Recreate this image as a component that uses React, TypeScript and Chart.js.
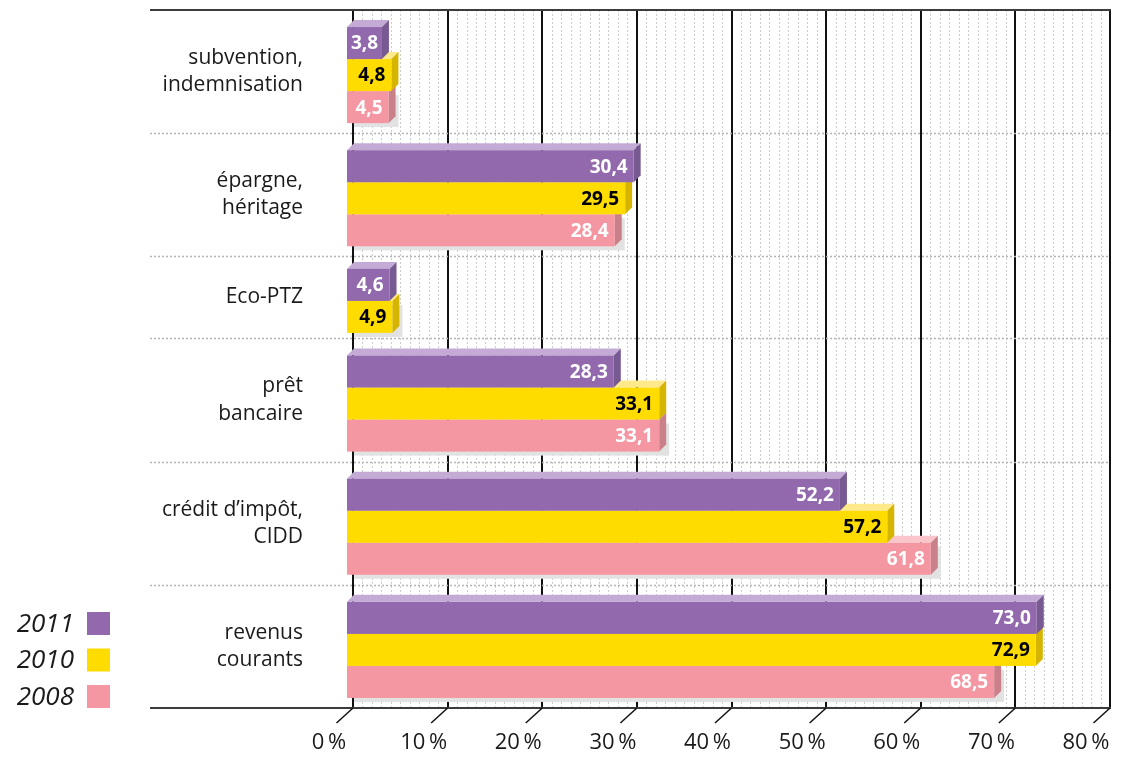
import React, { useEffect, useRef } from "react";
import { Chart, registerables } from "chart.js";

Chart.register(...registerables);

// ---------- data ----------
const categories: string[][] = [
  ["subvention,", "indemnisation"],
  ["épargne,", "héritage"],
  ["Eco-PTZ"],
  ["prêt", "bancaire"],
  ["crédit d’impôt,", "CIDD"],
  ["revenus", "courants"],
];
const seriesNames = ["2011", "2010", "2008"];
const values2011: (number | null)[] = [3.8, 30.4, 4.6, 28.3, 52.2, 73.0];
const values2010: (number | null)[] = [4.8, 29.5, 4.9, 33.1, 57.2, 72.9];
const values2008: (number | null)[] = [4.5, 28.4, null, 33.1, 61.8, 68.5];
const xTicks = [0, 10, 20, 30, 40, 50, 60, 70, 80];

// ---------- style ----------
const frontColors = ["#9169ac", "#ffdc00", "#f497a3"];
const topColors = ["#c3abd6", "#ffe98a", "#f9c6cc"];
const sideColors = ["#785a93", "#d6b500", "#c98089"];
const labelColors = ["#ffffff", "#000000", "#ffffff"];
const FONT = "'Open Sans', 'Noto Sans', sans-serif";
const DX = 7; // depth x
const DY = 7; // depth y
const BAR = 0.78; // bar thickness in slot units

// ---------- derived layout (slots) ----------
const seriesValues = [values2011, values2010, values2008];
const counts = categories.map((_, c) => seriesValues.filter((v) => v[c] != null).length);
const starts = counts.map((_, c) => counts.slice(0, c).reduce((a, b) => a + b, 0));
const totalSlots = counts.reduce((a, b) => a + b, 0);
const groupCenters = counts.map((n, c) => starts[c] + n / 2);

function barPos(c: number, s: number): number {
  const present = seriesValues.map((v, i) => (v[c] != null ? i : -1)).filter((i) => i >= 0);
  const k = present.indexOf(s);
  const n = counts[c];
  return groupCenters[c] + (k - (n - 1) / 2) * BAR;
}

const fmt = (v: number) => v.toFixed(1).replace(".", ",");

function collectBars(chart: any) {
  const groups: any[][] = categories.map(() => []);
  chart.data.datasets.forEach((ds: any, s: number) => {
    const meta = chart.getDatasetMeta(s);
    meta.data.forEach((el: any, i: number) => {
      const raw = ds.data[i];
      const p = el.getProps(["x", "y", "base", "height"], true);
      const h = p.height;
      const top = p.y - h / 2;
      const bot = p.y + h / 2;
      groups[raw.c].push({
        s,
        value: raw.x,
        fx0: p.base - DX,
        fx1: p.x - DX,
        fy0: top + DY / 2,
        fy1: bot + DY / 2,
        bx0: p.base,
        bx1: p.x,
        by0: top - DY / 2,
        by1: bot - DY / 2,
      });
    });
  });
  groups.forEach((g) => g.sort((a, b) => a.s - b.s));
  return groups;
}

const threeDPlugin = {
  id: "threeD",
  beforeDatasetsDraw(chart: any) {
    const ctx = chart.ctx as CanvasRenderingContext2D;
    const { top, bottom, right } = chart.chartArea;
    const xs = chart.scales.x;
    const ys = chart.scales.y;
    const frameLeft = 150;
    ctx.save();
    // minor dotted grid
    ctx.strokeStyle = "#cdcdcd";
    ctx.lineWidth = 1;
    ctx.setLineDash([2, 2]);
    for (let v = xs.min; v <= xs.max; v++) {
      if (v % 10 === 0) continue;
      const px = Math.round(xs.getPixelForValue(v)) + 0.5;
      ctx.beginPath();
      ctx.moveTo(px, top);
      ctx.lineTo(px, bottom);
      ctx.stroke();
    }
    // group separators
    ctx.strokeStyle = "#b4b4b4";
    ctx.lineWidth = 1.5;
    for (let c = 1; c < categories.length; c++) {
      const py = Math.round(ys.getPixelForValue(starts[c])) + 0.5;
      ctx.beginPath();
      ctx.moveTo(frameLeft, py);
      ctx.lineTo(right, py);
      ctx.stroke();
    }
    ctx.setLineDash([]);
    // frame top / bottom
    ctx.strokeStyle = "#3c3c3c";
    ctx.lineWidth = 2;
    ctx.beginPath();
    ctx.moveTo(frameLeft, top);
    ctx.lineTo(right + 1, top);
    ctx.moveTo(frameLeft, bottom);
    ctx.lineTo(right + 1, bottom);
    ctx.stroke();
    // diagonal ticks
    ctx.strokeStyle = "#111";
    ctx.lineWidth = 1.5;
    xTicks.forEach((t) => {
      const px = xs.getPixelForValue(t);
      ctx.beginPath();
      ctx.moveTo(px, bottom);
      ctx.lineTo(px - 16.5, bottom + 15);
      ctx.stroke();
    });
    // shadows under the bottom bar of each group
    const groups = collectBars(chart);
    ctx.fillStyle = "#e2e2e2";
    groups.forEach((g) => {
      const b = g[g.length - 1];
      if (!b) return;
      ctx.fillRect(b.bx0, b.fy0 + 4, b.fx1 + 10 - b.bx0, b.fy1 - b.fy0);
    });
    ctx.restore();
  },
  beforeDatasetDraw() {
    return false;
  },
  afterDatasetsDraw(chart: any) {
    const ctx = chart.ctx as CanvasRenderingContext2D;
    const groups = collectBars(chart);
    ctx.save();
    groups.forEach((g) => {
      for (let i = g.length - 1; i >= 0; i--) {
        const b = g[i];
        // top face
        ctx.fillStyle = topColors[b.s];
        ctx.beginPath();
        ctx.moveTo(b.fx0, b.fy0);
        ctx.lineTo(b.bx0, b.by0);
        ctx.lineTo(b.bx1, b.by0);
        ctx.lineTo(b.fx1, b.fy0);
        ctx.closePath();
        ctx.fill();
        // side face
        ctx.fillStyle = sideColors[b.s];
        ctx.beginPath();
        ctx.moveTo(b.fx1, b.fy0);
        ctx.lineTo(b.bx1, b.by0);
        ctx.lineTo(b.bx1, b.by1);
        ctx.lineTo(b.fx1, b.fy1);
        ctx.closePath();
        ctx.fill();
        // front face
        ctx.fillStyle = frontColors[b.s];
        ctx.fillRect(b.fx0, b.fy0, b.fx1 - b.fx0, b.fy1 - b.fy0);
        // value label
        const txt = fmt(b.value);
        ctx.font = `bold 19px ${FONT}`;
        ctx.fillStyle = labelColors[b.s];
        ctx.textBaseline = "middle";
        const w = ctx.measureText(txt).width;
        const bw = b.fx1 - b.fx0;
        let xr = b.fx1 - 6;
        if (w + 12 > bw) xr = b.fx0 + (bw + w) / 2;
        ctx.textAlign = "right";
        ctx.fillText(txt, xr, (b.fy0 + b.fy1) / 2 + 1);
      }
    });
    ctx.restore();
  },
  afterDraw(chart: any) {
    const ctx = chart.ctx as CanvasRenderingContext2D;
    const boxX = 87;
    const boxTop = 612;
    const step = 36.5;
    const size = 23;
    ctx.save();
    seriesNames.forEach((name, s) => {
      const y = boxTop + s * step;
      ctx.fillStyle = frontColors[s];
      ctx.fillRect(boxX, y, size, size);
      ctx.fillStyle = "#1a1a1a";
      ctx.font = `italic 26px ${FONT}`;
      ctx.textAlign = "right";
      ctx.textBaseline = "middle";
      ctx.fillText(name, 74, y + size / 2 + 1);
    });
    ctx.restore();
  },
};

export default function App() {
  const canvasRef = useRef<HTMLCanvasElement | null>(null);

  useEffect(() => {
    const canvas = canvasRef.current;
    if (!canvas) return;
    Chart.defaults.font.family = FONT;
    const datasets = seriesNames.map((name, s) => ({
      label: name,
      data: seriesValues[s]
        .map((v, c) => (v == null ? null : { x: v, y: barPos(c, s), c }))
        .filter((d) => d != null) as any[],
      backgroundColor: frontColors[s],
      grouped: false,
      barPercentage: 1,
      categoryPercentage: 1,
    }));

    const chart = new Chart(canvas, {
      type: "bar",
      data: { datasets },
      options: {
        indexAxis: "y",
        animation: false,
        responsive: false,
        layout: { padding: { top: 10, right: 12, bottom: 0, left: 0 } },
        plugins: { legend: { display: false }, tooltip: { enabled: false } },
        scales: {
          x: {
            type: "linear",
            position: "bottom",
            offset: false,
            min: xTicks[0],
            max: xTicks[xTicks.length - 1],
            grid: { color: "#111111", lineWidth: 2, drawTicks: false, offset: false },
            border: { display: false },
            afterBuildTicks: (s: any) => {
              s.ticks = xTicks.map((v) => ({ value: v }));
            },
            ticks: {
              autoSkip: false,
              maxRotation: 0,
              labelOffset: -24,
              padding: 22,
              color: "#1a1a1a",
              font: { size: 22 },
              callback: (v: any) => `${v}\u2009%`,
            },
            afterFit: (s: any) => {
              s.height = 50;
              s.paddingLeft = 0;
              s.paddingRight = 0;
            },
          },
          y: {
            type: "linear",
            offset: false,
            min: 0,
            max: totalSlots,
            reverse: true,
            grid: { display: false, drawTicks: false, offset: false },
            border: { display: false },
            afterBuildTicks: (s: any) => {
              s.ticks = groupCenters.map((v) => ({ value: v }));
            },
            ticks: {
              autoSkip: false,
              padding: 50,
              color: "#1a1a1a",
              font: { size: 21, lineHeight: 1.3 },
              callback: (v: any) => {
                const i = groupCenters.findIndex((g) => Math.abs(g - v) < 1e-6);
                return i >= 0 ? categories[i] : "";
              },
            },
            afterFit: (s: any) => {
              s.width = 353;
              s.paddingTop = 0;
              s.paddingBottom = 0;
            },
          },
        },
      } as any,
      plugins: [threeDPlugin as any],
    });
    return () => chart.destroy();
  }, []);

  return (
    <div style={{ position: "fixed", left: 0, top: 0, width: 1122, height: 758, background: "#fff" }}>
      <canvas ref={canvasRef} width={1122} height={758} style={{ display: "block" }} />
    </div>
  );
}
